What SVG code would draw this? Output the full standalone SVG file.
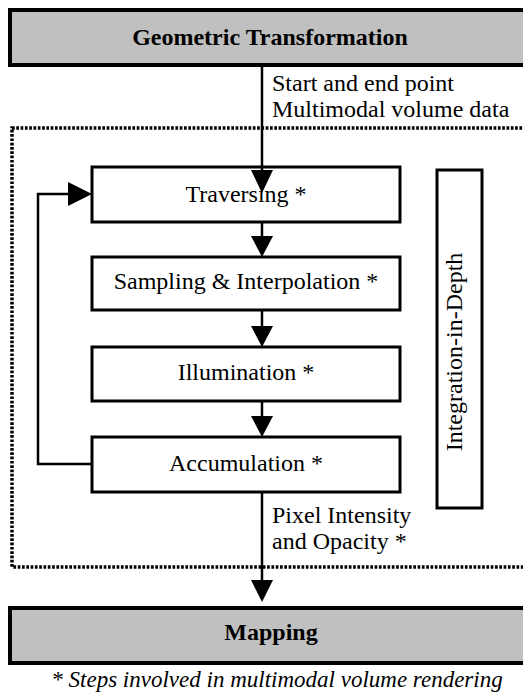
<svg xmlns="http://www.w3.org/2000/svg" width="523" height="698" viewBox="0 0 523 698">
<rect width="523" height="698" fill="#fff"/>
<rect x="12" y="128" width="520" height="439" fill="none" stroke="#000" stroke-width="3.5" stroke-dasharray="2.7,1.6"/>
<g id="geo"><rect fill="#c0c0c0" stroke="#000" stroke-width="4" x="10" y="10" width="525" height="55"/><text font-family="Liberation Serif" font-size="24" font-weight="bold" x="270" y="45" text-anchor="middle">Geometric Transformation</text></g>
<g id="trav"><rect fill="#fff" stroke="#000" stroke-width="3" x="92" y="167" width="308" height="55"/><text font-family="Liberation Serif" font-size="24" x="246" y="202" text-anchor="middle">Traversing *</text></g>
<g id="samp"><rect fill="#fff" stroke="#000" stroke-width="3" x="92" y="257" width="308" height="53"/><text font-family="Liberation Serif" font-size="24" x="246" y="289" text-anchor="middle">Sampling &amp; Interpolation *</text></g>
<g id="illu"><rect fill="#fff" stroke="#000" stroke-width="3" x="92" y="347" width="308" height="54"/><text font-family="Liberation Serif" font-size="24" x="246" y="380" text-anchor="middle">Illumination *</text></g>
<g id="accu"><rect fill="#fff" stroke="#000" stroke-width="3" x="92" y="437" width="308" height="55"/><text font-family="Liberation Serif" font-size="24" x="246" y="471" text-anchor="middle">Accumulation *</text></g>
<g id="iid"><rect fill="#fff" stroke="#000" stroke-width="3" x="437" y="170" width="45" height="338"/><text font-family="Liberation Serif" font-size="24" transform="translate(462,352) rotate(-90)" text-anchor="middle">Integration-in-Depth</text></g>
<g id="map"><rect fill="#c0c0c0" stroke="#000" stroke-width="4" x="10" y="608" width="525" height="55"/><text font-family="Liberation Serif" font-size="24" font-weight="bold" x="271" y="640" text-anchor="middle">Mapping</text></g>
<g id="connectors">
<g stroke="#000" stroke-width="2.5" fill="none">
<line x1="262" y1="65" x2="262" y2="172"/>
<line x1="262" y1="222" x2="262" y2="238"/>
<line x1="262" y1="310" x2="262" y2="327"/>
<line x1="262" y1="401" x2="262" y2="419"/>
<line x1="262" y1="492" x2="262" y2="582"/>
<polyline points="92,464 38,464 38,194 70,194"/>
</g>
<g fill="#000">
<path d="M251,170 L273,170 L262,193 Z"/>
<path d="M251,236 L273,236 L262,257 Z"/>
<path d="M251,326 L273,326 L262,347 Z"/>
<path d="M251,416 L273,416 L262,437 Z"/>
<path d="M251,580 L273,580 L262,602 Z"/>
<path d="M68,182 L92,194 L68,206 Z"/>
</g>
<text font-family="Liberation Serif" font-size="24" x="272" y="91">Start and end point</text>
<text font-family="Liberation Serif" font-size="24" x="272" y="117">Multimodal volume data</text>
<text font-family="Liberation Serif" font-size="24" x="272" y="523">Pixel Intensity</text>
<text font-family="Liberation Serif" font-size="24" x="272" y="549">and Opacity *</text>
</g>
<text font-family="Liberation Serif" font-size="23" font-style="italic" x="277" y="687" text-anchor="middle">* Steps involved in multimodal volume rendering</text>
</svg>
